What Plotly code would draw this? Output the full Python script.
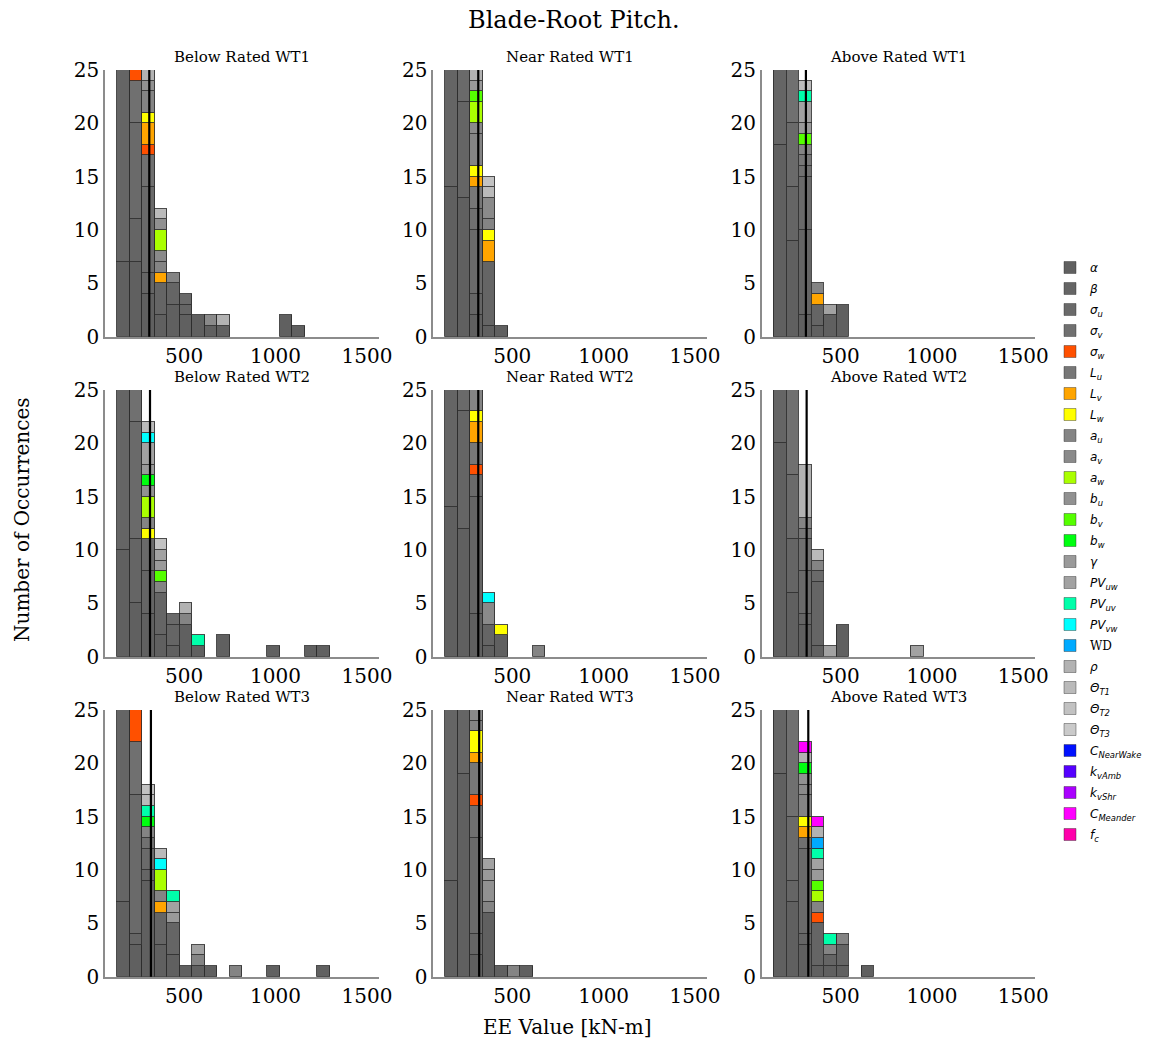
import plotly.graph_objects as go

W, H = 1149, 1045

# ---------------- data ----------------
VARS = ["alpha", "beta", "sigma_u", "sigma_v", "sigma_w", "L_u", "L_v", "L_w",
        "a_u", "a_v", "a_w", "b_u", "b_v", "b_w", "gamma", "PV_uw", "PV_uv",
        "PV_vw", "WD", "rho", "Theta_T1", "Theta_T2", "Theta_T3",
        "C_NearWake", "k_vAmb", "k_vShr", "C_Meander", "f_c"]

LABELS = ["<i>α</i>", "<i>β</i>", "<i>σ<sub>u</sub></i>", "<i>σ<sub>v</sub></i>",
          "<i>σ<sub>w</sub></i>", "<i>L<sub>u</sub></i>", "<i>L<sub>v</sub></i>",
          "<i>L<sub>w</sub></i>", "<i>a<sub>u</sub></i>", "<i>a<sub>v</sub></i>",
          "<i>a<sub>w</sub></i>", "<i>b<sub>u</sub></i>", "<i>b<sub>v</sub></i>",
          "<i>b<sub>w</sub></i>", "<i>γ</i>", "<i>PV<sub>uw</sub></i>",
          "<i>PV<sub>uv</sub></i>", "<i>PV<sub>vw</sub></i>",
          "<span style='font-family:DejaVu Serif'>WD</span>", "<i>ρ</i>",
          "<i>Θ<sub>T1</sub></i>", "<i>Θ<sub>T2</sub></i>", "<i>Θ<sub>T3</sub></i>",
          "<i>C<sub>NearWake</sub></i>", "<i>k<sub>vAmb</sub></i>",
          "<i>k<sub>vShr</sub></i>", "<i>C<sub>Meander</sub></i>", "<i>f<sub>c</sub></i>"]

COLORS = ["#606060", "#656565", "#6a6a6a", "#707070", "#ff5000", "#777777",
          "#ffa500", "#ffff00", "#848484", "#8a8a8a", "#aaff00", "#919191",
          "#55ff00", "#00ff10", "#9a9a9a", "#a2a2a2", "#00ffaa", "#00ffff",
          "#00aaff", "#b2b2b2", "#bababa", "#c2c2c2", "#cacaca", "#0010ff",
          "#5500ff", "#aa00ff", "#ff00ff", "#ff00aa"]

BIN_START = 135.0
BIN_WIDTH = 68.3
N_BINS = 17

TITLES = ["Below Rated WT1", "Near Rated WT1", "Above Rated WT1",
          "Below Rated WT2", "Near Rated WT2", "Above Rated WT2",
          "Below Rated WT3", "Near Rated WT3", "Above Rated WT3"]

MEAN_LINES = [310, 314, 310, 314, 314, 314, 319, 319, 323]

X_TICKS = [500, 1000, 1500]
Y_TICKS = [0, 5, 10, 15, 20, 25]

# counts per bin for each parameter (bins from BIN_START, width BIN_WIDTH)
BR_WT1 = {
    "alpha":    [7, 7, 4, 2, 3, 2, 2, 1, 1, 0, 0, 0, 0, 2, 1],
    "beta":     [20, 4, 2, 3, 2, 1],
    "sigma_u":  [0, 9, 8, 0, 0, 1],
    "sigma_v":  [0, 4, 3],
    "sigma_w":  [0, 3, 1],
    "L_v":      [0, 0, 2, 1],
    "L_w":      [0, 0, 1],
    "a_u":      [0, 0, 2, 1, 1],
    "a_v":      [0, 0, 0, 1, 0, 0, 0, 1],
    "a_w":      [0, 0, 0, 2],
    "b_u":      [0, 0, 1, 1],
    "rho":      [0, 0, 1, 0, 0, 0, 0, 0, 1],
    "Theta_T1": [0, 0, 0, 1],
}
NR_WT1 = {
    "alpha":    [14, 13, 2, 1, 1],
    "beta":     [13, 9, 2, 6],
    "sigma_u":  [0, 5, 6],
    "sigma_v":  [0, 0, 2],
    "L_u":      [0, 0, 2],
    "L_v":      [0, 0, 1, 2],
    "L_w":      [0, 0, 1, 1],
    "a_u":      [0, 0, 3, 1],
    "a_v":      [0, 0, 1, 2],
    "a_w":      [0, 0, 2],
    "b_v":      [0, 0, 1],
    "gamma":    [0, 0, 1],
    "rho":      [0, 0, 1],
    "Theta_T1": [0, 0, 0, 1],
    "Theta_T2": [0, 0, 0, 1],
}
AR_WT1 = {
    "alpha":    [18, 9, 2, 1, 2, 3],
    "beta":     [10, 5, 8, 2],
    "sigma_u":  [0, 6, 5],
    "sigma_v":  [0, 6, 1],
    "L_u":      [0, 0, 1],
    "L_v":      [0, 0, 0, 1],
    "a_u":      [0, 0, 1, 1],
    "b_v":      [0, 0, 1],
    "gamma":    [0, 0, 1],
    "PV_uw":    [0, 0, 2, 0, 1],
    "PV_uv":    [0, 0, 1],
    "Theta_T1": [0, 0, 1],
}
BR_WT2 = {
    "alpha":    [10, 5, 4, 2, 1, 3, 1, 0, 2, 0, 0, 0, 1, 0, 0, 1, 1],
    "beta":     [17, 6, 4, 4, 2],
    "sigma_u":  [0, 11, 3, 0, 1],
    "sigma_v":  [0, 5],
    "L_w":      [0, 0, 1],
    "a_u":      [0, 0, 1, 1, 0, 1],
    "a_w":      [0, 0, 2],
    "b_u":      [0, 0, 1],
    "b_v":      [0, 0, 0, 1],
    "b_w":      [0, 0, 1],
    "gamma":    [0, 0, 1, 1],
    "PV_uw":    [0, 0, 2, 1],
    "PV_uv":    [0, 0, 0, 0, 0, 0, 1],
    "PV_vw":    [0, 0, 1],
    "rho":      [0, 0, 0, 0, 0, 1],
    "Theta_T1": [0, 0, 1],
    "Theta_T2": [0, 0, 0, 1],
}
NR_WT2 = {
    "alpha":    [14, 12, 4, 1, 2],
    "beta":     [13, 11, 11, 2],
    "sigma_u":  [0, 4, 2],
    "sigma_w":  [0, 0, 1],
    "L_u":      [0, 0, 2],
    "L_v":      [0, 0, 2],
    "L_w":      [0, 0, 1, 0, 1],
    "a_u":      [0, 0, 3, 0, 0, 0, 0, 1],
    "a_v":      [0, 0, 0, 2],
    "PV_vw":    [0, 0, 0, 1],
}
AR_WT2 = {
    "alpha":    [20, 6, 3, 1, 0, 3],
    "beta":     [8, 5, 1, 6],
    "sigma_u":  [0, 6, 4, 1],
    "sigma_v":  [0, 10, 3],
    "L_u":      [0, 0, 1],
    "a_u":      [0, 0, 1, 1],
    "PV_uw":    [0, 0, 0, 0, 1, 0, 0, 0, 0, 0, 0, 1],
    "rho":      [0, 0, 5],
    "Theta_T1": [0, 0, 0, 1],
}
BR_WT3 = {
    "alpha":    [7, 3, 9, 3, 2, 1, 1, 1, 0, 0, 0, 0, 1, 0, 0, 0, 1],
    "beta":     [20, 1, 1, 3, 3],
    "sigma_u":  [0, 13, 2],
    "sigma_v":  [0, 5, 1],
    "sigma_w":  [0, 5],
    "L_v":      [0, 0, 0, 1],
    "a_u":      [0, 0, 1, 1, 0, 0, 1, 0, 0, 1],
    "a_w":      [0, 0, 0, 2],
    "b_w":      [0, 0, 1],
    "gamma":    [0, 0, 0, 0, 1],
    "PV_uw":    [0, 0, 0, 0, 1, 0, 1],
    "PV_uv":    [0, 0, 1, 0, 1],
    "PV_vw":    [0, 0, 0, 1],
    "Theta_T1": [0, 0, 1, 1],
    "Theta_T2": [0, 0, 1],
}
NR_WT3 = {
    "alpha":    [9, 19, 2, 6, 1, 0, 1],
    "beta":     [18, 8, 2],
    "sigma_u":  [0, 0, 9],
    "sigma_v":  [0, 0, 3],
    "sigma_w":  [0, 0, 1],
    "L_u":      [0, 0, 3],
    "L_v":      [0, 0, 1],
    "L_w":      [0, 0, 2],
    "a_u":      [0, 0, 1, 1, 0, 1],
    "a_v":      [0, 0, 2],
    "b_u":      [0, 0, 0, 2],
    "gamma":    [0, 0, 0, 1],
    "PV_uw":    [0, 0, 0, 1],
}
AR_WT3 = {
    "alpha":     [19, 7, 3, 1, 1, 1, 0, 1],
    "beta":      [8, 2, 1, 4, 1, 2],
    "sigma_u":   [0, 6, 8],
    "sigma_v":   [0, 12, 1],
    "sigma_w":   [0, 0, 0, 1],
    "L_v":       [0, 0, 1],
    "L_w":       [0, 0, 1],
    "a_u":       [0, 0, 2, 1, 1, 1],
    "a_v":       [0, 0, 1],
    "a_w":       [0, 0, 0, 1],
    "b_u":       [0, 0, 1],
    "b_v":       [0, 0, 0, 1],
    "b_w":       [0, 0, 1],
    "gamma":     [0, 0, 0, 1],
    "PV_uw":     [0, 0, 0, 1],
    "PV_uv":     [0, 0, 0, 1, 1],
    "WD":        [0, 0, 0, 1],
    "rho":       [0, 0, 1, 1],
    "C_Meander": [0, 0, 1, 1],
}

PANELS = [BR_WT1, NR_WT1, AR_WT1, BR_WT2, NR_WT2, AR_WT2, BR_WT3, NR_WT3, AR_WT3]

# ---------------- layout geometry (pixels) ----------------
COL_X = [(105, 378.7), (433.3, 706.7), (761.7, 1035)]
ROW_Y = [(70, 336.7), (390, 656.7), (710, 976.7)]
X_RANGE = [68, 1564]
Y_RANGE = [0, 25]

SERIF = "DejaVu Serif"
EDGE = "rgba(45,45,45,0.85)"
SPINE = "#8c8c8c"

centers = [BIN_START + (i + 0.5) * BIN_WIDTH for i in range(N_BINS)]

fig = go.Figure()
layout = dict(width=W, height=H, margin=dict(l=0, r=0, t=0, b=0, autoexpand=False),
              paper_bgcolor="white", plot_bgcolor="white",
              barmode="stack", bargap=0, showlegend=True)
shapes = []
annotations = []

for k, panel in enumerate(PANELS):
    r, c = divmod(k, 3)
    sfx = "" if k == 0 else str(k + 1)
    xa, ya = "x" + sfx, "y" + sfx
    x0, x1 = COL_X[c]
    y0, y1 = ROW_Y[r]
    for vi, v in enumerate(VARS):
        if v not in panel:
            continue
        counts = list(panel[v]) + [0] * (N_BINS - len(panel[v]))
        fig.add_trace(go.Bar(
            x=centers, y=[n if n else None for n in counts], width=BIN_WIDTH,
            marker=dict(color=COLORS[vi], line=dict(color=EDGE, width=1)),
            xaxis=xa, yaxis=ya, showlegend=False, name=LABELS[vi],
            hoverinfo="skip"))
    layout["xaxis" + sfx] = dict(
        domain=[x0 / W, x1 / W], range=X_RANGE, anchor=ya, automargin=False,
        tickvals=X_TICKS, ticktext=[str(t) for t in X_TICKS], ticks="",
        showline=True, linecolor=SPINE, linewidth=1.6, showgrid=False,
        zeroline=False, tickfont=dict(family=SERIF, size=20, color="black"))
    layout["yaxis" + sfx] = dict(
        domain=[1 - y1 / H, 1 - y0 / H], range=Y_RANGE, anchor=xa, automargin=False,
        tickvals=Y_TICKS, ticks="", showline=True, linecolor=SPINE,
        linewidth=1.6, showgrid=False, zeroline=False,
        tickfont=dict(family=SERIF, size=20, color="black"))
    shapes.append(dict(type="line", xref=xa, yref=ya + " domain",
                       x0=MEAN_LINES[k], x1=MEAN_LINES[k], y0=0, y1=1,
                       line=dict(color="black", width=2.2)))
    annotations.append(dict(text=TITLES[k], xref="paper", yref="paper",
                            x=(x0 + x1) / 2 / W, y=1 - (y0 - 13) / H,
                            showarrow=False, xanchor="center", yanchor="middle",
                            font=dict(family=SERIF, size=15, color="black")))

# legend entries
for vi, v in enumerate(VARS):
    fig.add_trace(go.Bar(x=[None], y=[None], name=LABELS[vi], legendgroup=v,
                         marker=dict(color=COLORS[vi], line=dict(color=EDGE, width=0.5)),
                         xaxis="x", yaxis="y", showlegend=True))

annotations.append(dict(text="Blade-Root Pitch.", xref="paper", yref="paper",
                        x=574 / W, y=1 - 20 / H, showarrow=False,
                        xanchor="center", yanchor="middle",
                        font=dict(family=SERIF, size=24, color="black")))
annotations.append(dict(text="Number of Occurrences", xref="paper", yref="paper",
                        x=22 / W, y=1 - 520 / H, showarrow=False, textangle=-90,
                        xanchor="center", yanchor="middle",
                        font=dict(family=SERIF, size=20, color="black")))
annotations.append(dict(text="EE Value [kN-m]", xref="paper", yref="paper",
                        x=567 / W, y=1 - 1027 / H, showarrow=False,
                        xanchor="center", yanchor="middle",
                        font=dict(family=SERIF, size=20, color="black")))

layout["shapes"] = shapes
layout["annotations"] = annotations
layout["legend"] = dict(x=1050 / W, y=1 - 253 / H, xanchor="left", yanchor="top",
                        font=dict(family="DejaVu Sans", size=12, color="black"),
                        bgcolor="rgba(0,0,0,0)", traceorder="grouped",
                        itemwidth=30, tracegroupgap=2)
fig.update_layout(**layout)

fig.write_html("out.html", config={"displayModeBar": False},
               post_script="document.body.style.margin='0';")
